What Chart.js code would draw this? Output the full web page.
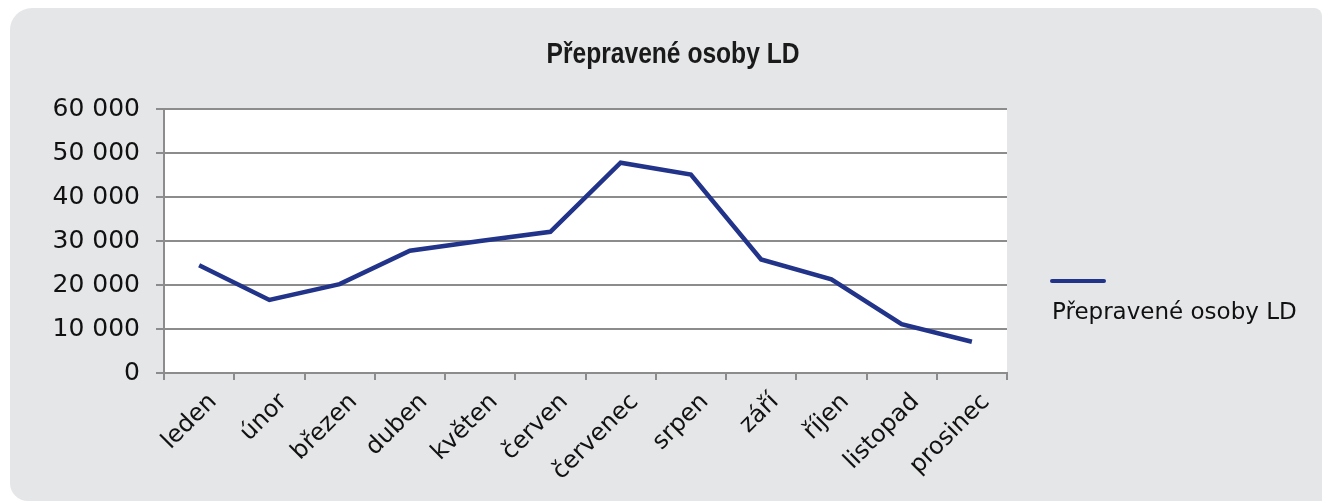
<!DOCTYPE html>
<html>
<head>
<meta charset="utf-8">
<script src="https://cdn.jsdelivr.net/npm/chart.js@4/dist/chart.umd.min.js"></script>
<style>
body{margin:0;background:#fff;width:1322px;height:501px;overflow:hidden;position:relative;}
#panel{position:absolute;left:10px;top:8px;width:1312px;height:493px;background:#e5e6e8;border-radius:22px 8px 0 18px;}
#graph{position:absolute;left:24px;top:0;}
#legend{position:absolute;left:1050px;top:279px;}
.legLine{position:absolute;left:0;top:0;width:56px;height:4px;border-radius:2px;}
.legText{position:absolute;left:2px;top:21px;white-space:nowrap;font:23px/23px 'DejaVu Sans',sans-serif;color:#111;}
</style>
</head>
<body>
<div id="panel"></div>
<canvas id="graph" width="1298" height="501"></canvas>
<div id="legend"></div>
<script>
var months = ['leden', 'únor', 'březen', 'duben', 'květen', 'červen', 'červenec', 'srpen', 'září', 'říjen', 'listopad', 'prosinec'];
var persons = [24500, 16600, 20200, 27800, 30000, 32100, 47800, 45100, 25800, 21300, 11100, 7100];
var seriesName = 'Přepravené osoby LD';
var titleText = 'Přepravené osoby LD';
var yMax = 60000;
var yStep = 10000;

var lineColor = '#22338a';
var gridColor = '#8c8c8c';

function formatThousands(v){
    return String(v).replace(/\B(?=(\d{3})+(?!\d))/g, ' ');
}

// white plot background
var plotBack = {
    id: 'plotBack',
    beforeDraw: function(chart){
        var a = chart.chartArea;
        var ctx = chart.ctx;
        ctx.save();
        ctx.fillStyle = '#ffffff';
        ctx.fillRect(a.left, a.top, a.right - a.left, a.bottom - a.top);
        ctx.restore();
    }
};

// title in a narrow bold face (no condensed font installed, so squeeze it)
var narrowTitle = {
    id: 'narrowTitle',
    afterDraw: function(chart, args, opts){
        var ctx = chart.ctx;
        ctx.save();
        ctx.translate(chart.width / 2, 63);
        ctx.scale(0.82, 1);
        ctx.font = "bold 30px 'Liberation Sans', Arial, sans-serif";
        ctx.fillStyle = '#1a1a1a';
        ctx.textAlign = 'center';
        ctx.textBaseline = 'alphabetic';
        ctx.fillText(opts.text, 0, 0);
        ctx.restore();
    }
};

// legend as html: line above the text
var htmlLegend = {
    id: 'htmlLegend',
    afterUpdate: function(chart){
        var box = document.getElementById('legend');
        box.innerHTML = '';
        chart.data.datasets.forEach(function(ds){
            var line = document.createElement('div');
            line.className = 'legLine';
            line.style.background = ds.borderColor;
            var txt = document.createElement('div');
            txt.className = 'legText';
            txt.innerText = ds.label;
            box.appendChild(line);
            box.appendChild(txt);
        });
    }
};

var ctx = document.getElementById('graph').getContext('2d');
var chart = new Chart(ctx, {
    type: 'line',
    data: {
        labels: months,
        datasets: [{
            label: seriesName,
            data: persons,
            borderColor: lineColor,
            backgroundColor: lineColor,
            borderWidth: 4.5,
            pointRadius: 0,
            fill: false,
            tension: 0
        }]
    },
    options: {
        responsive: false,
        animation: false,
        devicePixelRatio: 1,
        layout: {padding: {top: 109}},
        plugins: {
            legend: {display: false},
            tooltip: {enabled: false},
            title: {display: false},
            narrowTitle: {text: titleText}
        },
        scales: {
            x: {
                offset: true,
                grid: {display: true, offset: true, drawOnChartArea: false, drawTicks: true, tickLength: 7, color: gridColor, lineWidth: 2},
                border: {display: true, color: gridColor, width: 2},
                ticks: {
                    color: '#111',
                    font: {family: "'DejaVu Sans', sans-serif", size: 24},
                    maxRotation: 45,
                    minRotation: 45,
                    autoSkip: false,
                    padding: 8,
                    labelOffset: 14
                },
                afterFit: function(scale){ scale.height = 128; }
            },
            y: {
                min: 0,
                max: yMax,
                grid: {color: gridColor, lineWidth: 2, tickLength: 8},
                border: {display: true, color: gridColor, width: 2},
                ticks: {
                    stepSize: yStep,
                    color: '#111',
                    padding: 16,
                    font: {family: "'DejaVu Sans', sans-serif", size: 25},
                    callback: function(v){ return formatThousands(v); }
                },
                afterFit: function(scale){ scale.width = 140; }
            },
            y2: {
                position: 'right',
                display: true,
                grid: {display: false, drawTicks: false},
                border: {display: false},
                ticks: {display: false},
                afterFit: function(scale){ scale.width = 315; }
            }
        }
    },
    plugins: [plotBack, narrowTitle, htmlLegend]
});
</script>
</body>
</html>
